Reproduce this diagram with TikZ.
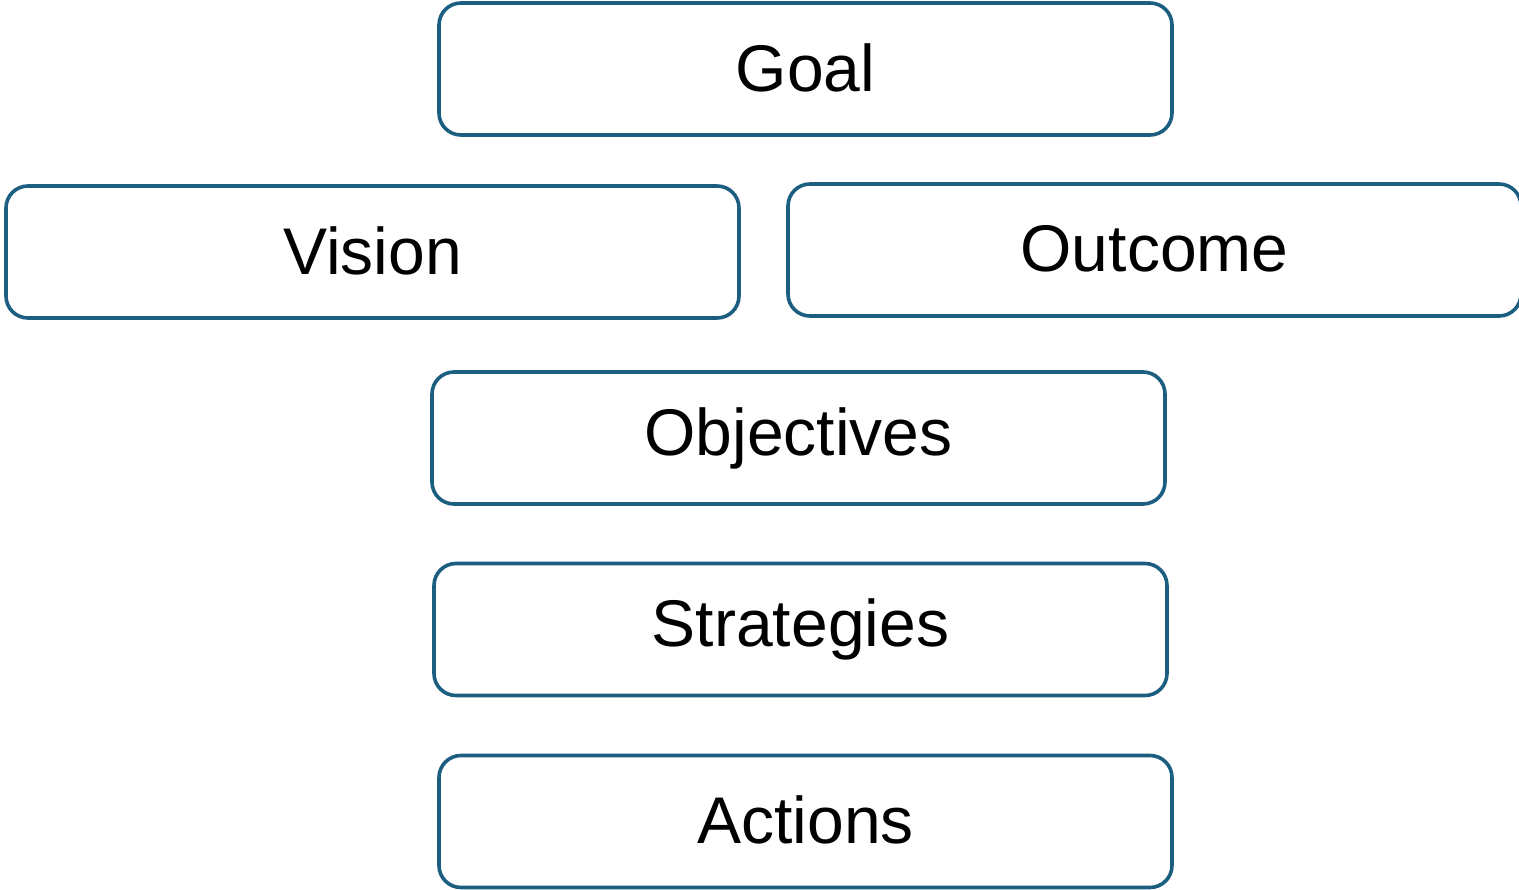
\documentclass[tikz,border=0pt]{standalone}
\usepackage{fontspec}
\setmainfont{Liberation Sans}
\definecolor{boxblue}{HTML}{1B5E80}
\newcommand{\lift}[1]{\raisebox{3pt}{#1}}
\begin{document}
\begin{tikzpicture}[x=1pt,y=-1pt,
  item/.style={draw=boxblue, line width=3.6pt, rounded corners=22pt,
    minimum width=733pt, minimum height=132pt, inner sep=0pt,
    font=\fontsize{66}{78}\selectfont, text=black}]
\useasboundingbox[clip] (0,0) rectangle (1519,890);
\node[item] (goal) at (805.5,69) {\lift{Goal}};
\node[item] (vision) at (372.5,252) {\lift{Vision}};
\node[item] (outcome) at (1154.5,250) {\lift{Outcome}};
\node[item] (objectives) at (798.5,438) {\lift{Objectives}};
\node[item] (strategies) at (800.5,629.5) {\lift{Strategies}};
\node[item] (actions) at (805.5,821.5) {\lift{Actions}};
\end{tikzpicture}
\end{document}
